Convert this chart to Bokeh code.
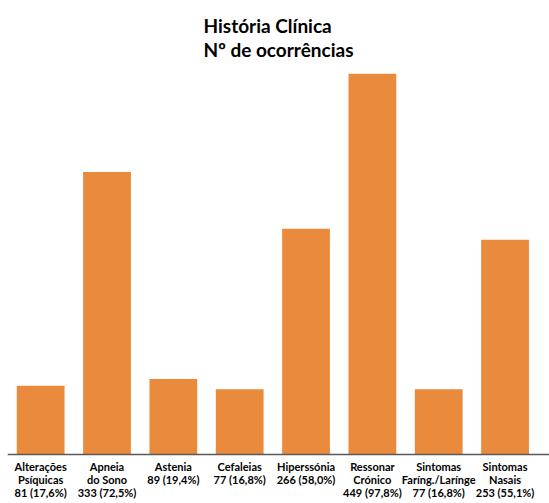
from bokeh.plotting import figure
from bokeh.models import Range1d, Title, ColumnDataSource, Span
from bokeh.core.properties import value
from bokeh.embed import file_html
from bokeh.resources import INLINE

categories = ["Alterações Psíquicas", "Apneia do Sono", "Astenia", "Cefaleias",
              "Hiperssónia", "Ressonar Crónico", "Sintomas Faríng./Larínge", "Sintomas Nasais"]
values = [81, 333, 89, 77, 266, 449, 77, 253]
tick_labels = ["Alterações\nPsíquicas\n81 (17,6%)", "Apneia\ndo Sono\n333 (72,5%)",
               "Astenia\n89 (19,4%)", "Cefaleias\n77 (16,8%)", "Hiperssónia\n266 (58,0%)",
               "Ressonar\nCrónico\n449 (97,8%)", "Sintomas\nFaríng./Larínge\n77 (16,8%)",
               "Sintomas\nNasais\n253 (55,1%)"]
title_text = "História Clínica\nNº de ocorrências"

FONT = "Lato"
n = len(categories)
src = ColumnDataSource(dict(x=list(range(n)), cat=categories, val=values,
                            lab=tick_labels, zero=[0] * n))

p = figure(width=549, height=503, x_range=Range1d(-0.5, n - 0.5 + 0.17),
           y_range=Range1d(-57.6, 449),
           output_backend="svg", toolbar_location=None,
           min_border_left=7, min_border_right=0, min_border_top=72, min_border_bottom=0)
p.vbar(x="x", top="val", width=0.72, source=src, fill_color="#E98A3D", line_color=None)
p.add_layout(Span(location=0, dimension="width", line_color="#595959", line_width=1.5))
p.text(x="x", y="zero", text="lab", source=src, text_align="center", text_baseline="top",
       y_offset=5, text_font=value(FONT), text_font_size="11px",
       text_font_style="bold", text_color="#000000", text_line_height=1.0)

p.title = None
t = Title(text=title_text, align="center", text_font=FONT, text_font_size="19px",
          text_font_style="bold", text_color="#000000", standoff=24, text_line_height=1.05)
p.add_layout(t, "above")

p.xaxis.visible = False
p.yaxis.visible = False
p.xgrid.visible = False
p.ygrid.visible = False
p.outline_line_color = None

open("out.html", "w").write(file_html(p, INLINE))
